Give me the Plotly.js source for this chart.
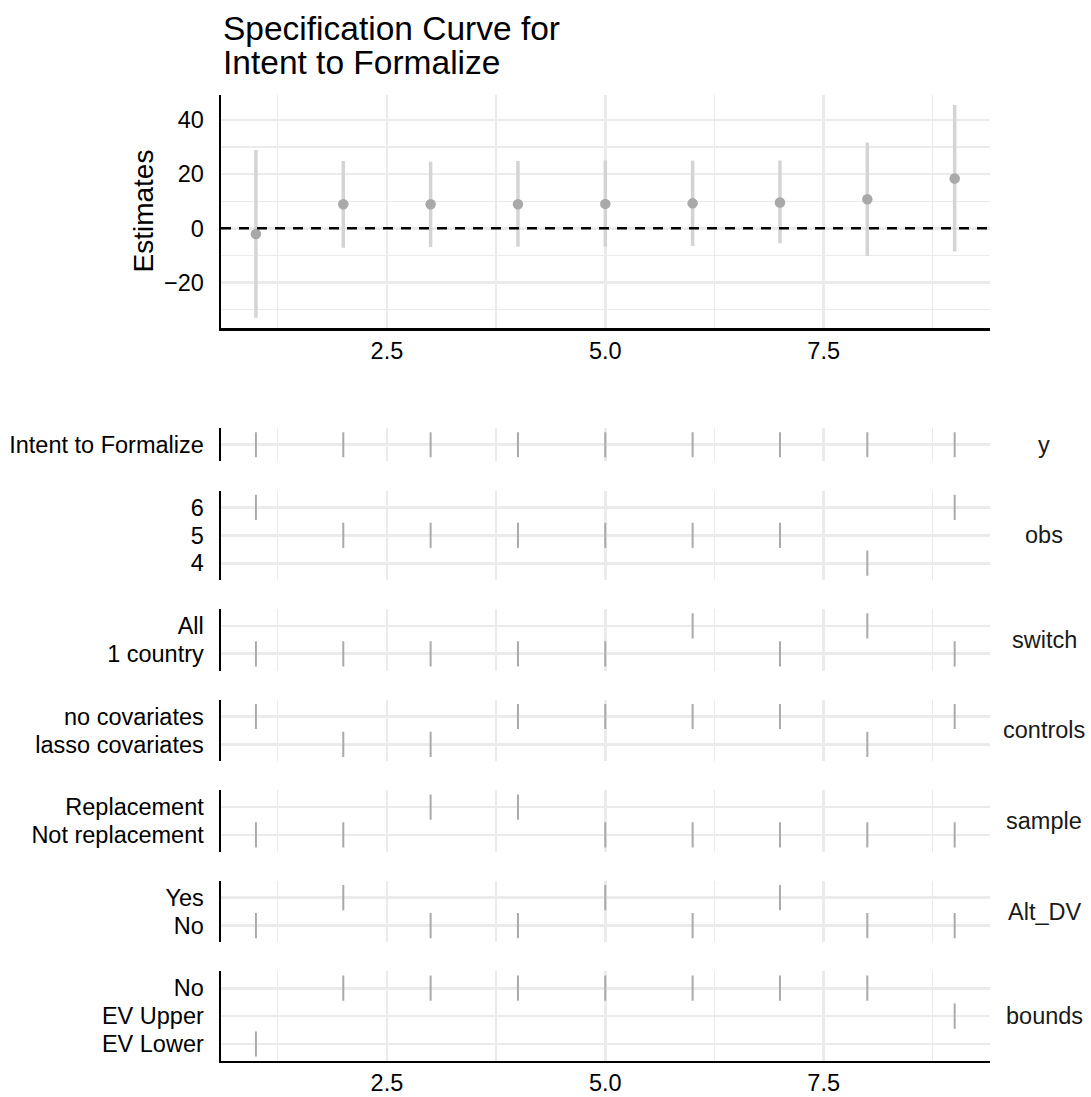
<!DOCTYPE html>
<html>
<head>
<meta charset="utf-8">
<script src="https://cdn.plot.ly/plotly-3.0.1.min.js"></script>
<style>html,body{margin:0;padding:0;background:#fff;}#chart{width:1091px;height:1097px;}</style>
</head>
<body>
<div id="chart"></div>
<script>
// ---- Data ----
const specRank = [1, 2, 3, 4, 5, 6, 7, 8, 9];
const estimate = [-2.1, 8.9, 8.9, 8.9, 9.0, 9.2, 9.5, 10.7, 18.4];
const ciLower  = [-33.0, -7.2, -6.9, -6.8, -6.8, -6.5, -5.5, -10.2, -8.6];
const ciUpper  = [28.9, 24.8, 24.6, 24.8, 25.0, 25.0, 25.0, 31.7, 45.5];

const facetNames = ["y", "obs", "switch", "controls", "sample", "Alt_DV", "bounds"];

const yLevels = ["Intent to Formalize"];
const yChoice = ["Intent to Formalize","Intent to Formalize","Intent to Formalize","Intent to Formalize","Intent to Formalize","Intent to Formalize","Intent to Formalize","Intent to Formalize","Intent to Formalize"];

const obsLevels = ["4", "5", "6"];
const obsChoice = ["6","5","5","5","5","5","5","4","6"];

const switchLevels = ["1 country", "All"];
const switchChoice = ["1 country","1 country","1 country","1 country","1 country","All","1 country","All","1 country"];

const controlsLevels = ["lasso covariates", "no covariates"];
const controlsChoice = ["no covariates","lasso covariates","lasso covariates","no covariates","no covariates","no covariates","no covariates","lasso covariates","no covariates"];

const sampleLevels = ["Not replacement", "Replacement"];
const sampleChoice = ["Not replacement","Not replacement","Replacement","Replacement","Not replacement","Not replacement","Not replacement","Not replacement","Not replacement"];

const altLevels = ["No", "Yes"];
const altChoice = ["No","Yes","No","No","Yes","No","Yes","No","No"];

const boundsLevels = ["EV Lower", "EV Upper", "No"];
const boundsChoice = ["EV Lower","No","No","No","No","No","No","No","EV Upper"];

const xTickVals = [2.5, 5.0, 7.5];
const yTickVals = [-20, 0, 20, 40];

// ---- Layout helpers ----
const W = 1091, H = 1097;
const FONT = "Liberation Sans, Arial, Helvetica, sans-serif";
const px = p => p / W;
const py = p => 1 - p / H;
const xDom = [px(221), px(989.6)];
const xRange = [0.6, 9.4];
const GRID = "#ebebeb";
const TICKFONT = {family: FONT, size: 23.5, color: "#000"};

const facets = [
  {levels: yLevels, choice: yChoice},
  {levels: obsLevels, choice: obsChoice},
  {levels: switchLevels, choice: switchChoice},
  {levels: controlsLevels, choice: controlsChoice},
  {levels: sampleLevels, choice: sampleChoice},
  {levels: altLevels, choice: altChoice},
  {levels: boundsLevels, choice: boundsChoice}
];

const traces = [];
const layout = {
  width: W, height: H,
  margin: {l: 0, r: 0, t: 0, b: 0},
  paper_bgcolor: "#fff", plot_bgcolor: "#fff",
  showlegend: false,
  font: {family: FONT, color: "#000"},
  xaxis: {
    domain: xDom, range: xRange, anchor: "y",
    tickmode: "array", tickvals: xTickVals, tickformat: ".1f", ticks: "",
    showgrid: true, gridcolor: GRID, gridwidth: 2.5,
    minor: {dtick: 2.5, tick0: 1.25, showgrid: true, gridcolor: GRID, gridwidth: 1.3},
    zeroline: false, showline: true, linecolor: "#000", linewidth: 2.5,
    tickfont: TICKFONT, ticklabelstandoff: 0
  },
  yaxis: {
    domain: [py(328), py(95)], range: [-36.8, 49.2], anchor: "x",
    tickmode: "array", tickvals: yTickVals, ticks: "",
    showgrid: true, gridcolor: GRID, gridwidth: 2.5,
    minor: {dtick: 10, tick0: 0, showgrid: true, gridcolor: GRID, gridwidth: 1.3},
    zeroline: false, showline: true, linecolor: "#000", linewidth: 2.5,
    tickfont: TICKFONT, ticklabelstandoff: 10
  },
  shapes: [{
    type: "line", xref: "x domain", yref: "y", x0: 0, x1: 1, y0: 0, y1: 0,
    line: {color: "#000", width: 2.5, dash: "10px,8px"}, layer: "above"
  }],
  annotations: [
    {text: "Specification Curve for", xref: "paper", yref: "paper", x: px(221), y: py(28),
     xanchor: "left", yanchor: "middle", showarrow: false, font: {family: FONT, size: 33.5, color: "#000"}},
    {text: "Intent to Formalize", xref: "paper", yref: "paper", x: px(221), y: py(62),
     xanchor: "left", yanchor: "middle", showarrow: false, font: {family: FONT, size: 33.5, color: "#000"}},
    {text: "Estimates", xref: "paper", yref: "paper", x: px(143), y: py(211.5), textangle: -90,
     xanchor: "center", yanchor: "middle", showarrow: false, font: {family: FONT, size: 28, color: "#000"}}
  ]
};

// Top panel: estimates with confidence intervals
traces.push({
  type: "scatter", mode: "markers", x: specRank, y: estimate, xaxis: "x", yaxis: "y",
  marker: {color: "#a9a9a9", size: 10.5},
  error_y: {type: "data", symmetric: false,
    array: estimate.map((e, i) => ciUpper[i] - e),
    arrayminus: estimate.map((e, i) => e - ciLower[i]),
    color: "#d4d4d4", thickness: 3.5, width: 0},
  hoverinfo: "x+y"
});

// Bottom panels
const unit = 27.9, gap = 29.2;
let panelTop = 428;
const nF = facets.length;
facets.forEach((f, k) => {
  const n = f.levels.length;
  const h = unit * (n + 0.2);
  const yName = "y" + (k + 2);
  const axKey = "yaxis" + (k + 2);
  layout[axKey] = {
    domain: [py(panelTop + h), py(panelTop)], anchor: "x2",
    type: "category", categoryorder: "array", categoryarray: f.levels,
    tickmode: "array", tickvals: f.levels, ticktext: f.levels,
    range: [-0.6, n - 1 + 0.6], ticks: "",
    showgrid: true, gridcolor: GRID, gridwidth: 2.7,
    zeroline: false, showline: true, linecolor: "#000", linewidth: 2.5,
    tickfont: TICKFONT, ticklabelstandoff: 10
  };
  traces.push({
    type: "scatter", mode: "markers", x: specRank, y: f.choice, xaxis: "x2", yaxis: yName,
    marker: {symbol: "line-ns", size: 18, color: "#aaaaaa", line: {color: "#aaaaaa", width: 2}},
    hoverinfo: "x+y"
  });
  layout.annotations.push({
    text: facetNames[k], xref: "paper", yref: "paper", x: px(1044), y: py(panelTop + h / 2),
    xanchor: "center", yanchor: "middle", showarrow: false,
    font: {family: FONT, size: 23.5, color: "#1a1a1a"}
  });
  if (k === nF - 1) {
    layout.xaxis2 = {
      domain: xDom, range: xRange, anchor: yName,
      tickmode: "array", tickvals: xTickVals, tickformat: ".1f", ticks: "",
      showgrid: true, gridcolor: GRID, gridwidth: 2.5,
      minor: {dtick: 2.5, tick0: 1.25, showgrid: true, gridcolor: GRID, gridwidth: 1.3},
      zeroline: false, showline: true, linecolor: "#000", linewidth: 2.5,
      tickfont: TICKFONT, ticklabelstandoff: 0
    };
  }
  panelTop += h + gap;
});

Plotly.newPlot("chart", traces, layout, {displayModeBar: false, staticPlot: true});
</script>
</body>
</html>
